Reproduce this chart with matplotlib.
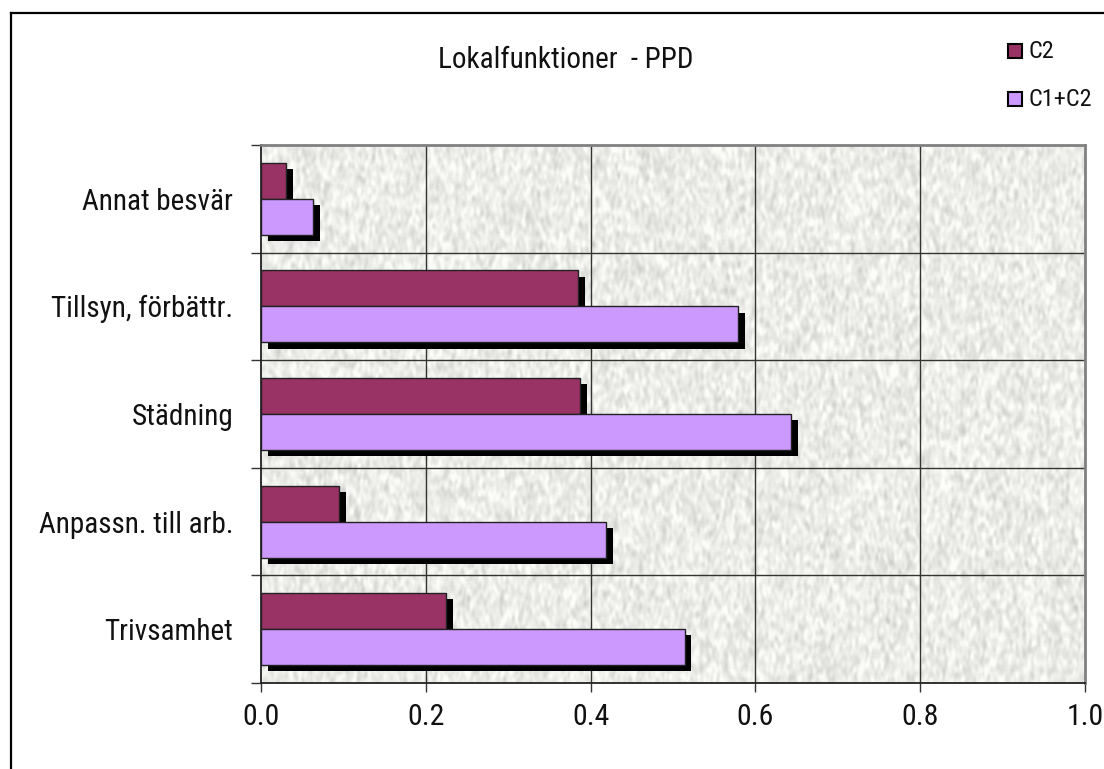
import numpy as np
import matplotlib
matplotlib.use("Agg")
import matplotlib.pyplot as plt
import matplotlib.patheffects as pe
from matplotlib.patches import Rectangle
from matplotlib.lines import Line2D

# data, bottom category first
categories = ["Trivsamhet", "Anpassn. till arb.", "Städning",
              "Tillsyn, förbättr.", "Annat besvär"]
c2 = [0.225, 0.095, 0.387, 0.385, 0.030]
c1_c2 = [0.514, 0.419, 0.643, 0.579, 0.063]
series_names = ["C2", "C1+C2"]
colors = ["#993366", "#CC99FF"]
xticks = [0.0, 0.2, 0.4, 0.6, 0.8, 1.0]
title = "Lokalfunktioner  - PPD"

plt.rcParams['font.family'] = ['Roboto Condensed', 'Liberation Sans', 'DejaVu Sans']
TXT = "#111111"

W, H = 1104, 769
fig = plt.figure(figsize=(W / 100, H / 100), dpi=100)
ax = fig.add_axes([261 / W, 1 - 683 / H, (1085 - 261) / W, (683 - 145) / H])

# granite-ish plot background
rng = np.random.default_rng(3)
noise = rng.normal(size=(280, 840))
k = np.ones(3) / 3
for _ in range(2):
    noise = np.apply_along_axis(lambda r: np.convolve(r, k, mode="same"), 1, noise)
    noise = np.apply_along_axis(lambda c: np.convolve(c, k, mode="same"), 0, noise)
noise = noise / noise.std()
tex = np.clip(0.925 + 0.035 * noise, 0.72, 0.99)
rgb = np.dstack([tex, tex, tex * 0.985])
n = len(categories)
ax.imshow(rgb, extent=[0, 1, -0.5, n - 0.5], aspect="auto", zorder=0,
          interpolation="bilinear")

y = np.arange(n)
h = 0.335
shadow = [pe.SimplePatchShadow(offset=(5, -4.5), shadow_rgbFace="k", alpha=1.0),
          pe.Normal()]
for vals, off, col in [(c2, h / 2, colors[0]), (c1_c2, -h / 2, colors[1])]:
    bars = ax.barh(y + off, vals, height=h, color=col, edgecolor="#222222",
                   linewidth=1.0, zorder=3)
    for b in bars:
        b.set_path_effects(shadow)

ax.set_xlim(0, 1)
ax.set_ylim(-0.5, n - 0.5)

ax.set_xticks(xticks)
ax.set_xticklabels([f"{t:.1f}" for t in xticks])
ax.set_yticks(y)
ax.set_yticklabels(categories)
ax.set_yticks(np.arange(n + 1) - 0.5, minor=True)

ax.tick_params(axis="x", length=6.5, width=1, color="#333333", pad=8,
               labelsize=21.5, labelcolor=TXT, direction="out")
ax.tick_params(axis="y", which="major", length=0, pad=20, labelsize=21,
               labelcolor=TXT)
ax.tick_params(axis="y", which="minor", length=7, width=1, color="#333333",
               direction="out")

for xv in xticks[1:-1]:
    ax.axvline(xv, color="#333333", lw=1.0, zorder=2)
for yv in np.arange(1, n) - 0.5:
    ax.axhline(yv, color="#333333", lw=1.0, zorder=2)

ax.spines["left"].set_color("#222222")
ax.spines["bottom"].set_color("#222222")
ax.spines["left"].set_linewidth(1.3)
ax.spines["bottom"].set_linewidth(1.3)
ax.spines["top"].set_color("#808080")
ax.spines["right"].set_color("#808080")
ax.spines["top"].set_linewidth(2)
ax.spines["right"].set_linewidth(2)

fig.text(566 / W, 1 - 60 / H, title, ha="center", va="center", fontsize=21,
         color=TXT)

# legend
for i, (name, col) in enumerate(zip(series_names, colors)):
    yc = 51 + 48 * i
    fig.patches.append(Rectangle(((1015 - 7) / W, 1 - (yc + 7) / H), 14 / W, 14 / H,
                                 facecolor=col, edgecolor="k", lw=1.5,
                                 transform=fig.transFigure, figure=fig))
    fig.text(1029 / W, 1 - yc / H, name, ha="left", va="center", fontsize=17.5,
             color=TXT)

# chart frame (left and top edges)
fig.add_artist(Line2D([11 / W, 11 / W], [0, 1 - 13 / H], color="k", lw=1.6,
                      transform=fig.transFigure))
fig.add_artist(Line2D([11 / W, 1], [1 - 13 / H, 1 - 13 / H], color="k", lw=1.6,
                      transform=fig.transFigure))

fig.savefig("out.png", dpi=100, facecolor="white")
